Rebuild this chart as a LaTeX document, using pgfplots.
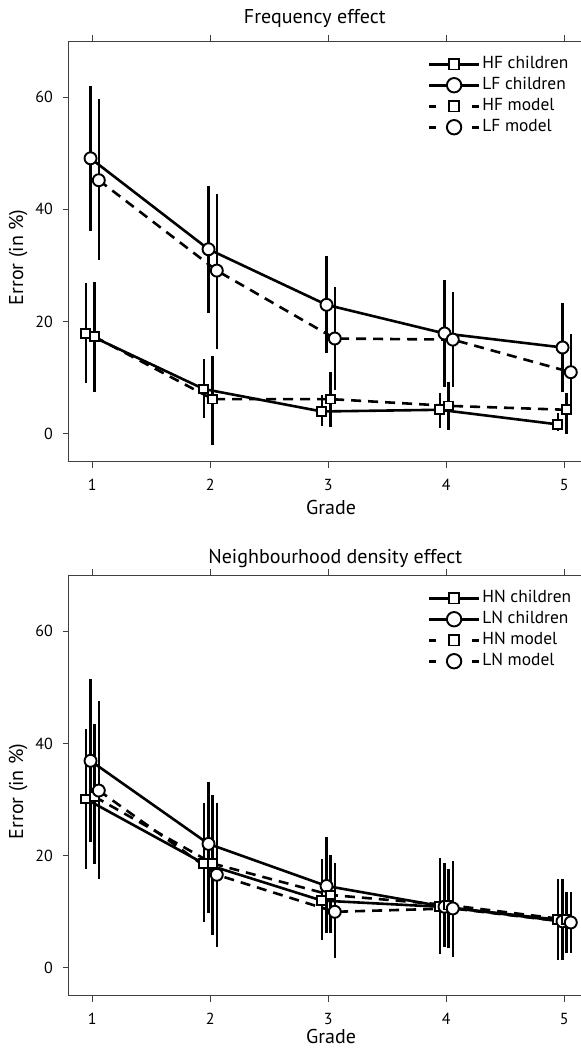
\documentclass[border=0pt]{standalone}
\usepackage{fontspec}
\setmainfont{PT Sans}
\usepackage{pgfplots}
\usepackage{pgfplotstable}
\pgfplotsset{compat=1.18}

% ---------- Frequency effect ----------
\pgfplotstableread{
x y ep em
0.945 17.9 8.9 8.8
1.945 8.0 5.3 5.2
2.945 4.0 3.0 2.5
3.945 4.3 3.0 3.3
4.945 1.7 2.0 1.2
}\hfc
\pgfplotstableread{
x y ep em
0.985 49.1 12.8 13.0
1.985 32.9 11.3 11.4
2.985 23.0 8.7 8.6
3.985 17.9 9.5 9.5
4.985 15.4 8.0 7.9
}\lfc
\pgfplotstableread{
x y ep em
1.02 17.3 9.7 9.8
2.02 6.2 7.7 8.2
3.02 6.2 4.9 4.9
4.02 5.0 4.3 4.3
5.02 4.3 3.0 4.3
}\hfm
\pgfplotstableread{
x y ep em
1.055 45.2 14.5 14.2
2.055 29.1 13.6 13.9
3.055 17.0 9.2 9.2
4.055 16.8 8.5 8.4
5.055 11.0 6.8 6.0
}\lfm
% ---------- Neighbourhood density effect ----------
\pgfplotstableread{
x y ep em
0.945 30.1 12.5 12.5
1.945 18.6 10.8 10.5
2.945 12.0 7.4 7.0
3.945 10.9 8.7 8.5
4.945 8.6 7.2 7.2
}\hnc
\pgfplotstableread{
x y ep em
0.985 36.9 14.5 14.4
1.985 22.1 11.1 12.3
2.985 14.6 8.7 8.4
3.985 10.9 7.8 7.1
4.985 8.3 7.5 6.9
}\lnc
\pgfplotstableread{
x y ep em
1.02 30.5 12.9 11.9
2.02 18.6 12.2 12.7
3.02 13.0 7.2 6.7
4.02 11.2 6.4 7.7
5.02 8.6 5.0 5.9
}\hnm
\pgfplotstableread{
x y ep em
1.055 31.6 15.9 15.8
2.055 16.6 12.8 12.8
3.055 10.0 8.7 8.3
4.055 10.6 8.4 8.6
5.055 8.1 5.5 5.4
}\lnm

\pgfplotsset{
  panel/.style={
    scale only axis, width=256pt, height=210.5pt,
    xmin=0.8025, xmax=5.1415, ymin=-5, ymax=70,
    axis x line*=box, axis y line*=left,
    xtick={1,2,3,4,5}, ytick={0,20,40,60},
    tick align=outside, major tick length=3pt,
    axis line style={draw=black!75, line width=0.5pt},
    every tick/.style={draw=black!75, line width=0.5pt},
    /pgf/number format/assume math mode=true,
    ticklabel style={font=\fontsize{8}{9}\selectfont},
    xticklabel style={anchor=base, yshift=-11.3pt},
    yticklabel style={xshift=-1.5pt},
    xlabel={Grade}, ylabel={Error (in \%)},
    label style={font=\fontsize{10}{11}\selectfont},
    ylabel style={at={([xshift=-22.9pt]axis description cs:0,0.486)}, anchor=base, rotate=0},
    title style={font=\fontsize{10}{11}\selectfont, anchor=base},
    legend cell align=left,
    legend style={draw=none, fill=none, at={(axis description cs:0.70,0.966)}, anchor=north west,
      inner sep=0pt, row sep=2pt, font=\fontsize{8.7}{10}\selectfont,
      nodes={inner xsep=1pt, inner ysep=0pt, text height=6.3pt, text depth=2.2pt},
      /tikz/every even column/.append style={column sep=0pt}},
    error bars/y dir=both, error bars/y explicit,
    error bars/error mark=none,
    error bars/error bar style={line width=1.2pt, solid, black},
  },
  ser/.style={black, line width=1.3pt,
    mark options={solid, fill=white, line width=0.95pt}},
  sq/.style={ser, mark=square*, mark size=2.2pt},
  ci/.style={ser, mark=*, mark size=3pt},
  dsh/.style={dash pattern=on 5pt off 3.5pt},
  solidleg/.style={legend image code/.code={
    \draw[##1] (0pt,0pt) -- (25pt,0pt);
    \draw[##1, /tikz/every mark/.append style={scale=1.2}] plot coordinates {(12.5pt,0pt)};}},
  dashleg/.style={legend image code/.code={
    \draw[##1, dash pattern=on 3.5pt off 18pt] (0pt,0pt) -- (25pt,0pt);
    \draw[##1, /tikz/every mark/.append style={scale=1.2}] plot coordinates {(12.5pt,0pt)};}},
}

\begin{document}
\begin{tikzpicture}
\useasboundingbox (0,0) rectangle (290.5pt,524.5pt);
\begin{axis}[panel, at={(34.5pt,293.5pt)}, anchor=south west,
  xlabel style={at={([yshift=-26.5pt]axis description cs:0.512,0)}, anchor=base},
  title={Frequency effect}, title style={at={([yshift=2.6pt]axis description cs:0.48,1)}}]
\addplot[sq, solidleg] table[x=x, y=y, y error plus=ep, y error minus=em] {\hfc};
\addlegendentry{HF children}
\addplot[ci, solidleg] table[x=x, y=y, y error plus=ep, y error minus=em] {\lfc};
\addlegendentry{LF children}
\addplot[sq, dsh, dashleg] table[x=x, y=y, y error plus=ep, y error minus=em] {\hfm};
\addlegendentry{HF model}
\addplot[ci, dsh, dashleg] table[x=x, y=y, y error plus=ep, y error minus=em] {\lfm};
\addlegendentry{LF model}
\end{axis}
\begin{axis}[panel, at={(34.5pt,26.5pt)}, anchor=south west,
  xlabel style={at={([yshift=-23.5pt]axis description cs:0.512,0)}, anchor=base},
  title={Neighbourhood density effect}, title style={at={([yshift=-0.4pt]axis description cs:0.52,1)}}]
\addplot[sq, solidleg] table[x=x, y=y, y error plus=ep, y error minus=em] {\hnc};
\addlegendentry{HN children}
\addplot[ci, solidleg] table[x=x, y=y, y error plus=ep, y error minus=em] {\lnc};
\addlegendentry{LN children}
\addplot[sq, dsh, dashleg] table[x=x, y=y, y error plus=ep, y error minus=em] {\hnm};
\addlegendentry{HN model}
\addplot[ci, dsh, dashleg] table[x=x, y=y, y error plus=ep, y error minus=em] {\lnm};
\addlegendentry{LN model}
\end{axis}
\end{tikzpicture}
\end{document}
